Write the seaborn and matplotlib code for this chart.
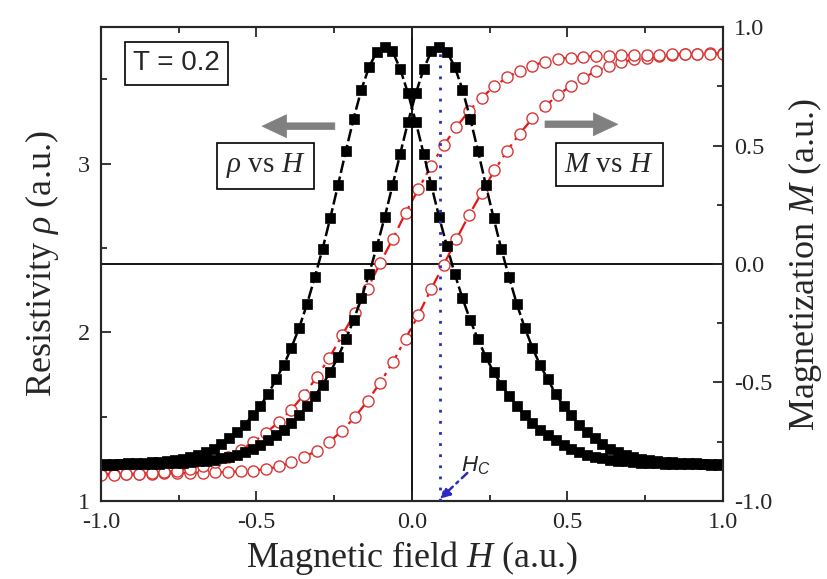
import numpy as np
import seaborn as sns
import matplotlib.pyplot as plt
from matplotlib.ticker import AutoMinorLocator, FormatStrFormatter

# field sweep grids (a.u.)
field_rho = np.linspace(-0.9875, 0.9875, 80)
field_m = np.linspace(-1.0, 1.0, 50)

# resistivity, sweep up (peak at +Hc) and sweep down (peak at -Hc)
rho_up = [1.215, 1.215, 1.216, 1.217, 1.218, 1.219, 1.220, 1.221, 1.223, 1.225,
          1.227, 1.230, 1.234, 1.239, 1.245, 1.252, 1.262, 1.274, 1.291, 1.309,
          1.332, 1.358, 1.388, 1.422, 1.462, 1.509, 1.560, 1.621, 1.690, 1.764,
          1.855, 1.958, 2.073, 2.202, 2.348, 2.512, 2.683, 2.871, 3.060, 3.248,
          3.417, 3.561, 3.668, 3.695, 3.665, 3.576, 3.440, 3.268, 3.076, 2.875,
          2.679, 2.494, 2.326, 2.167, 2.028, 1.909, 1.804, 1.720, 1.633, 1.565,
          1.507, 1.452, 1.408, 1.371, 1.338, 1.309, 1.288, 1.271, 1.259, 1.250,
          1.243, 1.237, 1.233, 1.229, 1.226, 1.224, 1.222, 1.220, 1.219, 1.218]
rho_down = [1.218, 1.219, 1.220, 1.222, 1.224, 1.226, 1.229, 1.233, 1.237, 1.243,
            1.250, 1.259, 1.271, 1.288, 1.309, 1.338, 1.371, 1.408, 1.452, 1.507,
            1.565, 1.633, 1.720, 1.804, 1.909, 2.028, 2.167, 2.326, 2.494, 2.679,
            2.875, 3.076, 3.268, 3.440, 3.576, 3.665, 3.695, 3.668, 3.561, 3.417,
            3.248, 3.060, 2.871, 2.683, 2.512, 2.348, 2.202, 2.073, 1.958, 1.855,
            1.764, 1.690, 1.621, 1.560, 1.509, 1.462, 1.422, 1.388, 1.358, 1.332,
            1.309, 1.291, 1.274, 1.262, 1.252, 1.245, 1.239, 1.234, 1.230, 1.227,
            1.225, 1.223, 1.221, 1.220, 1.219, 1.218, 1.217, 1.216, 1.215, 1.215]

# magnetization branches
m_up = [-0.888, -0.888, -0.888, -0.888, -0.887, -0.884, -0.883, -0.882, -0.881, -0.880,
        -0.878, -0.876, -0.872, -0.866, -0.855, -0.838, -0.816, -0.788, -0.751, -0.703,
        -0.647, -0.578, -0.501, -0.414, -0.315, -0.216, -0.107, -0.004, 0.104, 0.207,
        0.301, 0.395, 0.478, 0.551, 0.615, 0.667, 0.713, 0.752, 0.786, 0.814,
        0.837, 0.851, 0.864, 0.872, 0.878, 0.882, 0.886, 0.887, 0.889, 0.889]
m_down = [-0.889, -0.889, -0.887, -0.886, -0.882, -0.878, -0.872, -0.864, -0.851, -0.837,
          -0.814, -0.786, -0.752, -0.713, -0.667, -0.615, -0.551, -0.478, -0.395, -0.301,
          -0.207, -0.104, 0.004, 0.107, 0.216, 0.315, 0.414, 0.501, 0.578, 0.647,
          0.703, 0.751, 0.788, 0.816, 0.838, 0.855, 0.866, 0.872, 0.876, 0.878,
          0.880, 0.881, 0.882, 0.883, 0.884, 0.887, 0.888, 0.888, 0.888, 0.888]

hc = 0.09  # coercive field

sns.set_style("ticks")
plt.rcParams['font.family'] = ['Liberation Serif', 'DejaVu Serif']
plt.rcParams['mathtext.fontset'] = 'custom'
plt.rcParams['mathtext.rm'] = 'Liberation Serif'
plt.rcParams['mathtext.it'] = 'Liberation Serif:italic'
plt.rcParams['mathtext.sf'] = 'Liberation Sans:italic'
plt.rcParams['axes.unicode_minus'] = False

fig, ax = plt.subplots(figsize=(8.28, 5.79), dpi=100)
fig.subplots_adjust(left=0.122, right=0.873, top=0.953, bottom=0.135)
ax_m = ax.twinx()
ax.set_zorder(ax_m.get_zorder() + 1)
ax.patch.set_visible(False)

# M vs H (right axis)
for m in (m_up, m_down):
    sns.lineplot(x=field_m, y=m, ax=ax_m, color='#e81515', marker='o', markersize=8,
                 markerfacecolor='white', markeredgecolor='#d83636', markeredgewidth=1.0,
                 linestyle=(0, (7, 2.5, 1.5, 2.5)), linewidth=1.6, errorbar=None)
ax_m.axhline(0, color='black', lw=1.3, zorder=0)

# rho vs H (left axis)
for r in (rho_up, rho_down):
    sns.lineplot(x=field_rho, y=r, ax=ax, color='black', marker='s', markersize=7,
                 markeredgecolor='black', markeredgewidth=0.5,
                 linestyle=(0, (5, 1.5)), linewidth=1.8, errorbar=None)
ax.axvline(0, color='black', lw=1.3, zorder=0)

# coercive field marker
blue = '#2a2ac4'
ax.vlines(hc, 1.0, max(rho_up), colors=blue, linestyles=(0, (1, 3)), linewidth=2, zorder=5)
ax.annotate('', xy=(hc, 1.012), xytext=(0.178, 1.165),
            arrowprops=dict(arrowstyle='-|>,head_length=0.6,head_width=0.3', color=blue,
                            lw=1.8, linestyle=(0, (3, 2, 1, 2)), shrinkA=0, shrinkB=0))
ax.text(0.205, 1.215, r'$\mathsf{H}_{\mathsf{C}}$', fontsize=16, ha='center', va='center')

# annotations
ax.text(0.121, 0.924, 'T = 0.2', transform=ax.transAxes, family=['Liberation Sans'],
        fontsize=20, ha='center', va='center',
        bbox=dict(boxstyle='square,pad=0.3', fc='white', ec='black', lw=1.2))
ax.text(0.2645, 0.707, r'$\rho$ vs $H$', transform=ax.transAxes, fontsize=21,
        ha='center', va='center',
        bbox=dict(boxstyle='square,pad=0.3', fc='white', ec='black', lw=1.2))
ax.text(0.817, 0.710, r'$M$ vs $H$', transform=ax.transAxes, fontsize=21,
        ha='center', va='center', zorder=6,
        bbox=dict(boxstyle='square,pad=0.3', fc='white', ec='black', lw=1.2))
gray_arrow = dict(arrowstyle='simple,head_length=0.8,head_width=0.75,tail_width=0.22',
                  fc='#808080', ec='#808080', lw=0.5, mutation_scale=22, shrinkA=0, shrinkB=0)
ax.annotate('', xy=(0.259, 0.791), xytext=(0.376, 0.791), xycoords='axes fraction',
            arrowprops=gray_arrow)
ax.annotate('', xy=(0.831, 0.795), xytext=(0.714, 0.795), xycoords='axes fraction',
            arrowprops=gray_arrow)

# axes
ax.set_xlim(-1, 1)
ax.set_ylim(1, 3.81)
ax_m.set_ylim(-1, 1)
ax.set_xticks([-1, -0.5, 0, 0.5, 1])
ax.set_yticks([1, 2, 3])
ax_m.set_yticks([-1, -0.5, 0, 0.5, 1])
ax.xaxis.set_major_formatter(FormatStrFormatter('%.1f'))
ax_m.yaxis.set_major_formatter(FormatStrFormatter('%.1f'))
for a in (ax, ax_m):
    a.xaxis.set_minor_locator(AutoMinorLocator(2))
    a.yaxis.set_minor_locator(AutoMinorLocator(2))
    a.tick_params(which='both', direction='in', labelsize=17.5, width=1.3, pad=8)
    a.tick_params(which='major', length=7.5)
    a.tick_params(which='minor', length=4.5)
    for s in a.spines.values():
        s.set_linewidth(1.5)
ax.tick_params(axis='x', which='both', top=True)

ax.set_xlabel(r'Magnetic field $H$ (a.u.)', fontsize=26, labelpad=4)
ax.set_ylabel(r'Resistivity $\rho$ (a.u.)', fontsize=26, labelpad=12)
ax_m.set_ylabel(r'Magnetization $M$ (a.u.)', fontsize=26, labelpad=10)

fig.savefig('out.png', dpi=100)
